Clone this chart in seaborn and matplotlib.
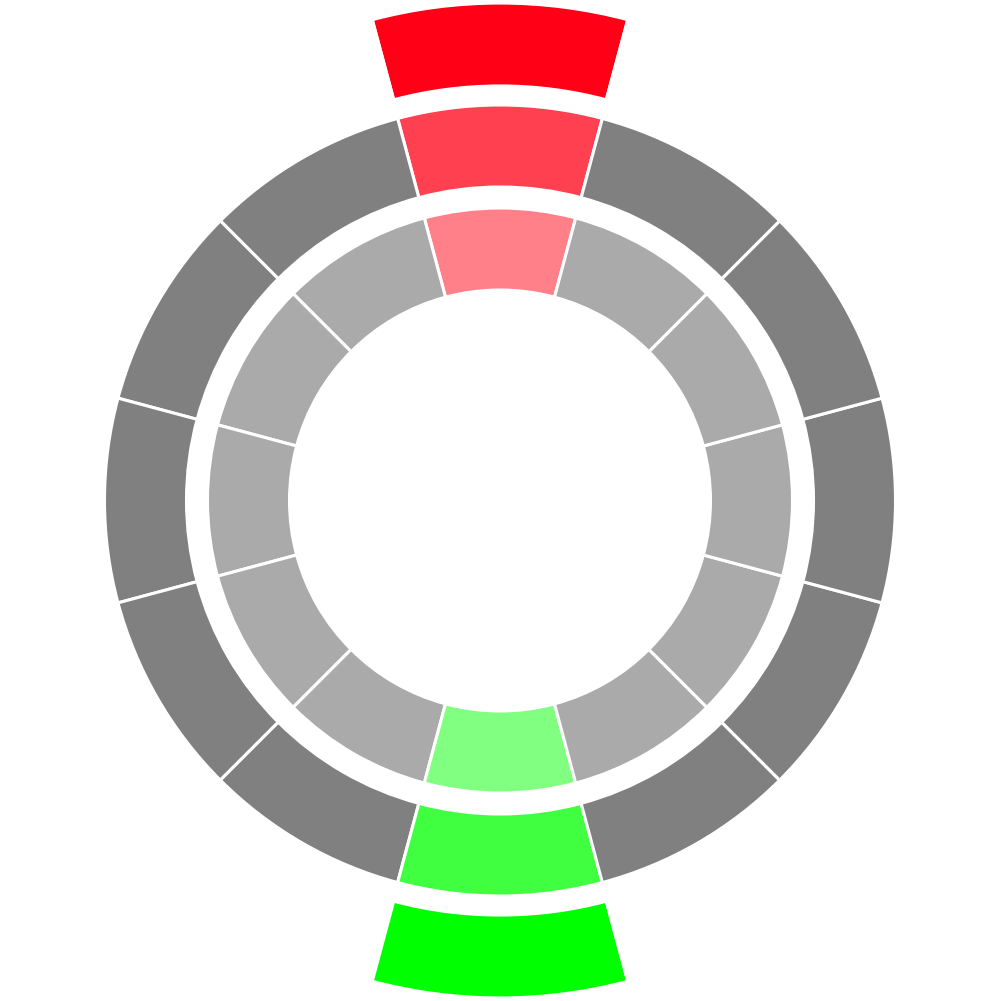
import matplotlib
matplotlib.use("Agg")
import matplotlib.pyplot as plt
import seaborn as sns

sns.set_style("white")

# twelve equal sectors per ring, first sector centred at the top
inner_values = [1] * 12
inner_colors = ["#ff8088"] + ["#aaaaaa"] * 5 + ["#80ff80"] + ["#aaaaaa"] * 5

outer_values = [1] * 12
outer_colors = ["#ff4050"] + ["#808080"] * 5 + ["#40ff40"] + ["#808080"] * 5

# outermost ring only has the top and bottom sectors
edge_values = [1, 5, 1, 5]
edge_colors = ["#ff0016", "none", "#00ff00", "none"]

fig = plt.figure(figsize=(10, 10.01), dpi=100)
ax = fig.add_axes([0, 0, 1, 1])

ax.pie(inner_values, colors=inner_colors, startangle=75, counterclock=True,
       radius=292.5, wedgeprops=dict(width=82, edgecolor="white", linewidth=2.2))
ax.pie(outer_values, colors=outer_colors, startangle=75, counterclock=True,
       radius=395.5, wedgeprops=dict(width=82, edgecolor="white", linewidth=2.2))
ax.pie(edge_values, colors=edge_colors, startangle=75, counterclock=True,
       radius=498.5, wedgeprops=dict(width=85, edgecolor="white", linewidth=3.7))

ax.set_xlim(-500, 500)
ax.set_ylim(-500.5, 500.5)
ax.set_aspect("equal")
ax.axis("off")

fig.savefig("out.png", dpi=100, facecolor="white")
